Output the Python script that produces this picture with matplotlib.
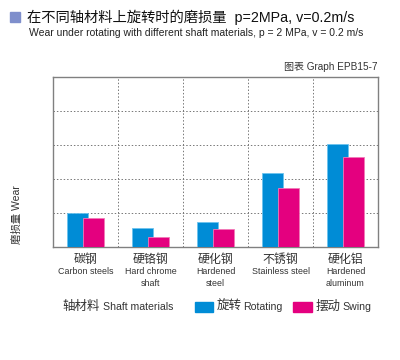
import numpy as np
import matplotlib
matplotlib.use('Agg')
import matplotlib.pyplot as plt
from matplotlib.patches import Rectangle

plt.rcParams['font.family'] = ['Liberation Sans', 'Noto Sans CJK SC']

# data
cat_cn = ['碳钢', '硬铬钢', '硬化钢', '不锈钢', '硬化铝']
cat_en = ['Carbon steels', 'Hard chrome\nshaft', 'Hardened\nsteel', 'Stainless steel', 'Hardened\naluminum']
rotating = [1.0, 0.57, 0.74, 2.18, 3.02]
swing = [0.84, 0.30, 0.54, 1.74, 2.65]

blue = '#008cd6'
pink = '#e4007f'
txt = '#333333'

fig = plt.figure(figsize=(4, 3.6), dpi=100)
W, H = 400, 360
ax = fig.add_axes([53 / W, 1 - 247 / H, 325 / W, 170 / H])

x = np.arange(len(cat_cn))
w = 0.32
off = 0.123
ax.bar(x - off, rotating, w, color=blue, edgecolor='#6cc3ee', linewidth=0.6, zorder=3)
ax.bar(x + off, swing, w, color=pink, edgecolor='#f27ab8', linewidth=0.6, zorder=4)

ax.set_xlim(-0.5, 4.5)
ax.set_ylim(0, 5)
ax.set_yticks(np.arange(0, 6))
ax.set_xticks(np.arange(-0.5, 5, 1))
ax.tick_params(length=0, labelleft=False, labelbottom=False)
ax.grid(True, linestyle=(0, (1.5, 2)), color='#777777', linewidth=0.7, zorder=0)
for s in ax.spines.values():
    s.set_color('#808080')
    s.set_linewidth(1.0)

# category labels
tr = ax.get_xaxis_transform()
for i in range(len(cat_cn)):
    ax.annotate(cat_cn[i], (i, 0), xytext=(0, -13), textcoords='offset pixels',
                xycoords=tr, ha='center', va='center', fontsize=8.6, color=txt)
    ax.annotate(cat_en[i], (i, 0), xytext=(0, -19.5), textcoords='offset pixels',
                xycoords=tr, ha='center', va='top', fontsize=6.4, color=txt,
                linespacing=1.45)

# title block
fig.patches.append(Rectangle((10 / W, 1 - 22 / H), 10 / W, 10 / H,
                             transform=fig.transFigure, color='#7f8fcc'))
fig.text(27 / W, 1 - 17 / H, '在不同轴材料上旋转时的磨损量  p=2MPa, v=0.2m/s',
         fontsize=10.3, va='center', ha='left', color='#111111')
fig.text(29 / W, 1 - 33 / H,
         'Wear under rotating with different shaft materials, p = 2 MPa, v = 0.2 m/s',
         fontsize=7.5, va='center', ha='left', color='#222222')
fig.text(378 / W, 1 - 67 / H, '图表 Graph EPB15-7', fontsize=7.2,
         va='center', ha='right', color=txt)
fig.text(17 / W, 1 - 215 / H, '磨损量 Wear', rotation=90, fontsize=7.5,
         va='center', ha='center', color=txt)

# bottom legend
ly = 1 - 307 / H
fig.text(62 / W, ly, '轴材料', fontsize=9, va='center', ha='left', color=txt)
fig.text(103 / W, ly, 'Shaft materials', fontsize=7.6, va='center', ha='left', color=txt)
fig.patches.append(Rectangle((195 / W, 1 - 312 / H), 18 / W, 10 / H,
                             transform=fig.transFigure, color=blue))
fig.text(217 / W, ly, '旋转', fontsize=9, va='center', ha='left', color=txt)
fig.text(243 / W, ly, 'Rotating', fontsize=7.6, va='center', ha='left', color=txt)
fig.patches.append(Rectangle((293 / W, 1 - 312 / H), 19 / W, 10 / H,
                             transform=fig.transFigure, color=pink))
fig.text(316 / W, ly, '摆动', fontsize=9, va='center', ha='left', color=txt)
fig.text(342 / W, ly, 'Swing', fontsize=7.6, va='center', ha='left', color=txt)

fig.savefig('out.png', dpi=100)
